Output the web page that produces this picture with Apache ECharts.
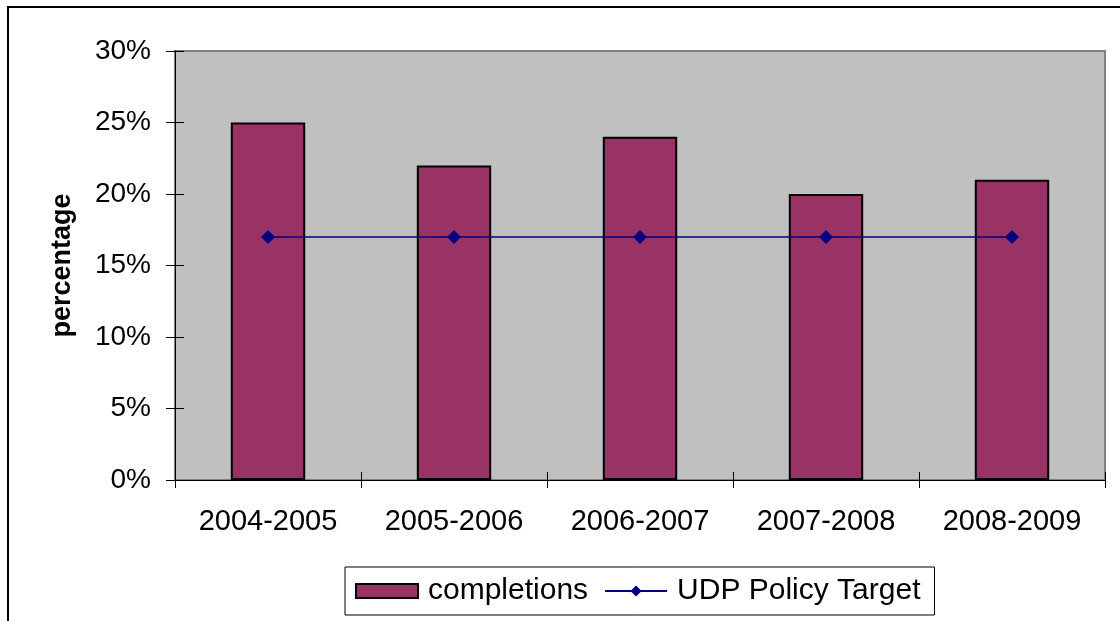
<!DOCTYPE html>
<html>
<head>
<meta charset="utf-8">
<script src="https://cdn.jsdelivr.net/npm/echarts@6/dist/echarts.min.js"></script>
<style>html,body{margin:0;padding:0;background:#fff}#c{width:1120px;height:621px}</style>
</head>
<body>
<div id="c"></div>
<script>
const categories = ['2004-2005', '2005-2006', '2006-2007', '2007-2008', '2008-2009'];
const completions = [25, 22, 24, 20, 21];
const udpTarget = [17, 17, 17, 17, 17];
const yTicks = { min: 0, max: 30, interval: 5 };

const FONT = '"Liberation Sans", Arial, sans-serif';
const chart = echarts.init(document.getElementById('c'));
chart.setOption({
  animation: false,
  backgroundColor: '#fff',
  graphic: [{
    type: 'rect', silent: true, z: -1,
    shape: { x: 8, y: 7, width: 1300, height: 800 },
    style: { fill: 'none', stroke: '#000', lineWidth: 2 }
  }],
  grid: {
    left: 175, top: 51, right: 15, bottom: 141,
    show: true, backgroundColor: '#C0C0C0', borderColor: '#808080', borderWidth: 2
  },
  legend: {
    left: 345, top: 567,
    padding: [9, 14, 9, 10],
    borderColor: '#000', borderWidth: 1, backgroundColor: '#fff',
    itemWidth: 62, itemHeight: 14, itemGap: 16,
    textStyle: { fontFamily: FONT, fontSize: 30, color: '#000', padding: [0, 0, 0, 5] },
    data: [{ name: 'completions', icon: 'rect' }, { name: 'UDP Policy Target' }]
  },
  xAxis: [{
    type: 'category', data: categories, position: 'bottom',
    axisLine: { lineStyle: { color: '#000', width: 1 } },
    axisTick: { show: true, length: 8, lineStyle: { color: '#000' } },
    axisLabel: { fontFamily: FONT, fontSize: 29, color: '#000', margin: 27 },
    splitLine: { show: false }
  }, {
    type: 'category', data: categories, position: 'bottom',
    axisLine: { show: false },
    axisTick: { show: true, inside: true, length: 8, lineStyle: { color: '#000' } },
    axisLabel: { show: false },
    splitLine: { show: false }
  }],
  yAxis: [{
    type: 'value', min: yTicks.min, max: yTicks.max, interval: yTicks.interval,
    name: 'percentage', nameLocation: 'middle', nameRotate: 90, nameGap: 99,
    nameTextStyle: { fontFamily: FONT, fontSize: 27, fontWeight: 'bold', color: '#000' },
    axisLine: { show: true, lineStyle: { color: '#000', width: 1 } },
    axisTick: { show: true, length: 9, lineStyle: { color: '#000' } },
    axisLabel: { fontFamily: FONT, fontSize: 28, color: '#000', margin: 24, formatter: '{value}%' },
    splitLine: { show: false }
  }, {
    type: 'value', min: yTicks.min, max: yTicks.max, interval: yTicks.interval, position: 'left',
    axisLine: { show: false },
    axisTick: { show: true, inside: true, length: 9, lineStyle: { color: '#000' } },
    axisLabel: { show: false },
    splitLine: { show: false }
  }],
  series: [{
    name: 'completions', type: 'bar', data: completions, barWidth: '40%',
    itemStyle: { color: '#993366', borderColor: '#000', borderWidth: 2 }
  }, {
    name: 'UDP Policy Target', type: 'line', data: udpTarget,
    symbol: 'diamond', symbolSize: 14,
    lineStyle: { color: '#000080', width: 1.5 },
    itemStyle: { color: '#000080' }
  }]
});
</script>
</body>
</html>
